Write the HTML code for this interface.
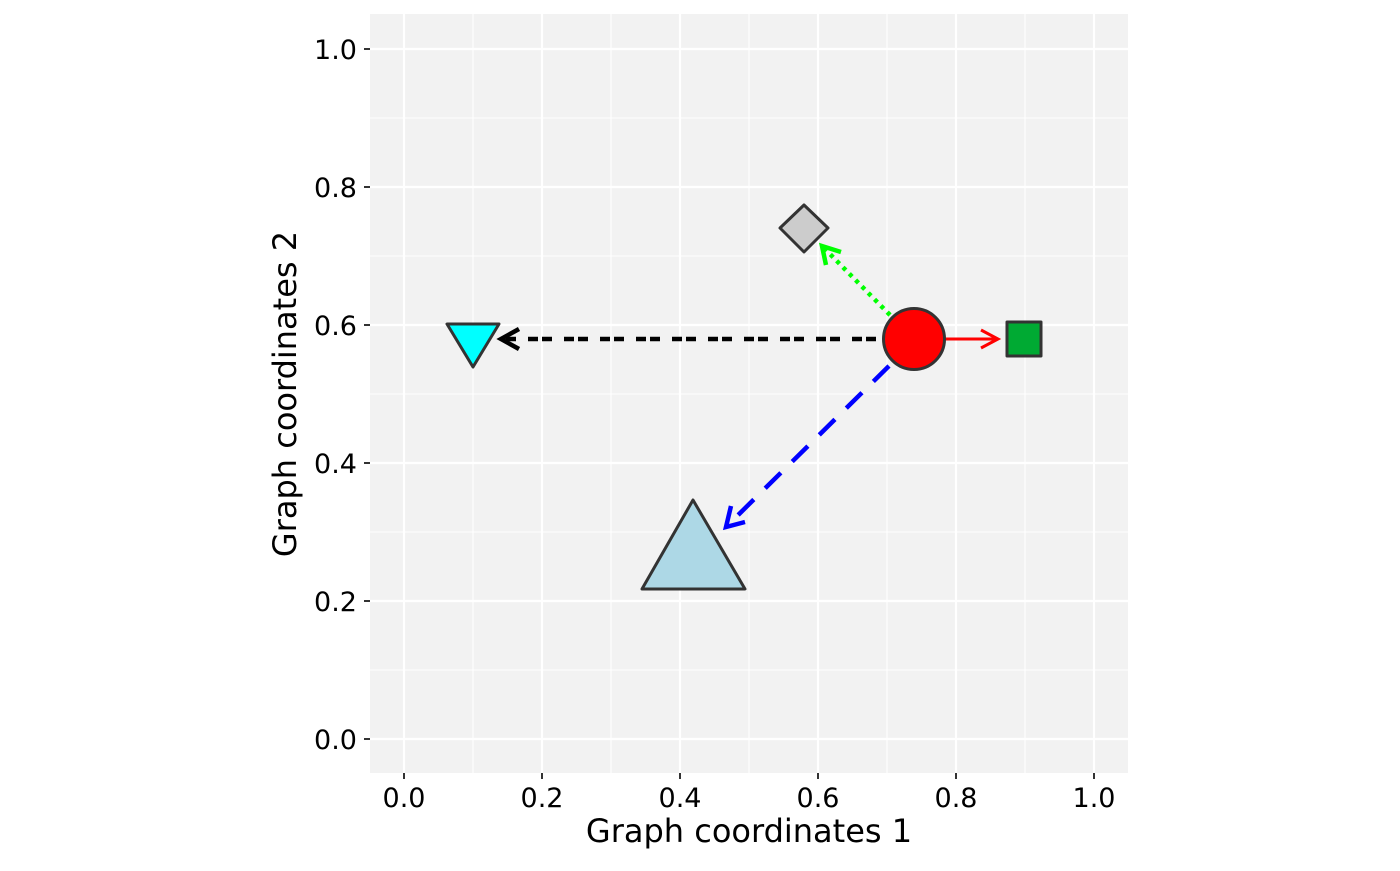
<!DOCTYPE html>
<html><head><style>body{margin:0;background:#fff}</style></head><body>
<svg width="1400" height="866" xmlns="http://www.w3.org/2000/svg" font-family="DejaVu Sans, sans-serif">
<rect x="370" y="14" width="758" height="759" fill="#f2f2f2"/>
<g stroke="#fff" stroke-width="1.1">
<line x1="473" y1="14" x2="473" y2="773"/><line x1="611" y1="14" x2="611" y2="773"/><line x1="749" y1="14" x2="749" y2="773"/><line x1="887" y1="14" x2="887" y2="773"/><line x1="1025" y1="14" x2="1025" y2="773"/>
<line x1="370" y1="670" x2="1128" y2="670"/><line x1="370" y1="532" x2="1128" y2="532"/><line x1="370" y1="394" x2="1128" y2="394"/><line x1="370" y1="256" x2="1128" y2="256"/><line x1="370" y1="118" x2="1128" y2="118"/>
</g>
<g stroke="#fff" stroke-width="2.2">
<line x1="404" y1="14" x2="404" y2="773"/><line x1="542" y1="14" x2="542" y2="773"/><line x1="680" y1="14" x2="680" y2="773"/><line x1="818" y1="14" x2="818" y2="773"/><line x1="956" y1="14" x2="956" y2="773"/><line x1="1094" y1="14" x2="1094" y2="773"/>
<line x1="370" y1="739" x2="1128" y2="739"/><line x1="370" y1="601" x2="1128" y2="601"/><line x1="370" y1="463" x2="1128" y2="463"/><line x1="370" y1="325" x2="1128" y2="325"/><line x1="370" y1="187" x2="1128" y2="187"/><line x1="370" y1="49" x2="1128" y2="49"/>
</g>
<g stroke="#333" stroke-width="2">
<line x1="404" y1="773" x2="404" y2="779"/><line x1="542" y1="773" x2="542" y2="779"/><line x1="680" y1="773" x2="680" y2="779"/><line x1="818" y1="773" x2="818" y2="779"/><line x1="956" y1="773" x2="956" y2="779"/><line x1="1094" y1="773" x2="1094" y2="779"/>
<line x1="364" y1="739" x2="370" y2="739"/><line x1="364" y1="601" x2="370" y2="601"/><line x1="364" y1="463" x2="370" y2="463"/><line x1="364" y1="325" x2="370" y2="325"/><line x1="364" y1="187" x2="370" y2="187"/><line x1="364" y1="49" x2="370" y2="49"/>
</g>
<g font-size="27" fill="#000" text-anchor="middle">
<text x="404" y="807">0.0</text><text x="542" y="807">0.2</text><text x="680" y="807">0.4</text><text x="818" y="807">0.6</text><text x="956" y="807">0.8</text><text x="1094" y="807">1.0</text>
</g>
<g font-size="27" fill="#000" text-anchor="end">
<text x="357" y="749">0.0</text><text x="357" y="611">0.2</text><text x="357" y="473">0.4</text><text x="357" y="335">0.6</text><text x="357" y="197">0.8</text><text x="357" y="59">1.0</text>
</g>
<text x="749" y="842" font-size="32" text-anchor="middle" fill="#000">Graph coordinates 1</text>
<text transform="translate(296,394) rotate(-90)" font-size="32" text-anchor="middle" fill="#000">Graph coordinates 2</text>
<line x1="876" y1="339" x2="503" y2="339" stroke="#000" stroke-width="4.5" stroke-dasharray="10,4,10,12"/>
<polyline points="519,329 501,339 519,349" fill="none" stroke="#000" stroke-width="4.5"/>
<line x1="945" y1="339" x2="997" y2="339" stroke="#f00" stroke-width="3"/>
<polyline points="981,330 998,339 981,348" fill="none" stroke="#f00" stroke-width="3"/>
<line x1="890" y1="315" x2="824" y2="248" stroke="#0f0" stroke-width="4.5" stroke-dasharray="4,5"/>
<polyline points="826,265 822,246 841,252" fill="none" stroke="#0f0" stroke-width="4.5"/>
<line x1="889" y1="366" x2="728" y2="525" stroke="#00f" stroke-width="4.5" stroke-dasharray="22,16"/>
<polyline points="731,506 726,527 745,522" fill="none" stroke="#00f" stroke-width="4.5"/>
<g stroke="#333" stroke-width="3" stroke-linejoin="round">
<polygon points="447,324 499,324 473,367" fill="#0ff"/>
<polygon points="693,500 745,589 642,589" fill="#add8e6"/>
<polygon points="804,205 828,228 804,252 780,228" fill="#ccc"/>
<circle cx="914" cy="339" r="30.5" fill="#f00"/>
<rect x="1007" y="322" width="34" height="34" fill="#00aa33"/>
</g>
</svg>
</body></html>
